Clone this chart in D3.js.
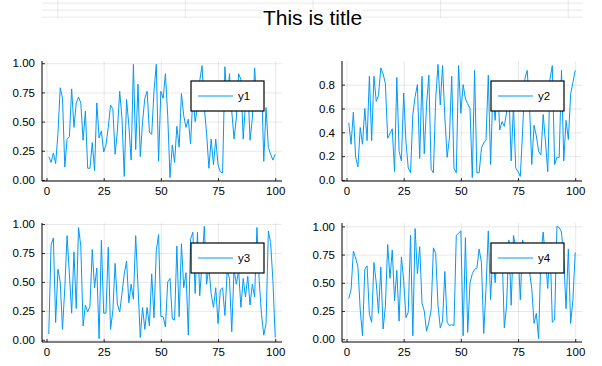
<!DOCTYPE html>
<meta charset="utf-8">
<style>
body {
  margin: 0;
  background: #fff;
  font-family: "Liberation Sans", Arial, sans-serif;
}
.tick text {
  font-family: "Liberation Sans", Arial, sans-serif;
  font-size: 11.5px;
  fill: #000;
}
.grid line {
  stroke: #000;
  stroke-opacity: 0.09;
}
.grid path,
.labels path {
  display: none;
}
.labels line {
  stroke: #000;
  stroke-opacity: 0.8;
}
.spine {
  stroke: #000;
  stroke-width: 1;
}
</style>
<body>
<div id="chart"></div>

<script src="https://cdn.jsdelivr.net/npm/d3@7"></script>
<script>

// data
var steps = d3.range(1, 101);

var y1 = [0.20,0.15,0.23,0.14,0.40,0.79,0.70,0.11,0.35,0.37,
          0.78,0.45,0.66,0.71,0.66,0.34,0.59,0.10,0.10,0.32,
          0.08,0.66,0.36,0.42,0.24,0.30,0.45,0.64,0.61,0.22,
          0.42,0.76,0.53,0.03,0.69,0.47,0.17,0.99,0.26,0.82,
          0.20,0.50,0.70,0.76,0.41,0.39,0.76,0.99,0.16,0.76,
          0.70,0.91,0.55,0.02,0.30,0.15,0.46,0.28,0.74,0.55,
          0.45,0.52,0.31,0.72,0.50,0.62,0.85,0.98,0.62,0.40,
          0.10,0.35,0.13,0.35,0.13,0.07,0.06,0.97,0.65,0.91,
          0.59,0.35,0.53,0.91,0.86,0.35,0.65,0.82,0.34,0.53,
          0.96,0.65,0.59,0.85,0.16,0.62,0.28,0.22,0.17,0.22];

var y2 = [0.48,0.30,0.57,0.19,0.11,0.44,0.30,0.60,0.33,0.87,
          0.33,0.87,0.66,0.71,0.94,0.89,0.81,0.35,0.39,0.43,
          0.07,0.86,0.24,0.16,0.73,0.32,0.10,0.06,0.55,0.70,
          0.80,0.18,0.87,0.22,0.63,0.88,0.09,0.06,0.68,0.97,
          0.63,0.96,0.53,0.19,0.35,0.87,0.10,0.06,0.96,0.56,
          0.80,0.68,0.64,0.60,0.02,0.92,0.06,0.06,0.27,0.31,
          0.34,0.88,0.13,0.75,0.50,0.82,0.42,0.49,0.45,0.57,
          0.75,0.16,0.62,0.10,0.07,0.03,0.41,0.85,0.92,0.63,
          0.13,0.46,0.37,0.24,0.21,0.55,0.32,0.07,0.85,0.96,
          0.13,0.19,0.19,0.92,0.16,0.50,0.34,0.72,0.82,0.92];

var y3 = [0.05,0.82,0.88,0.15,0.61,0.50,0.09,0.45,0.90,0.57,
          0.23,0.76,0.27,0.97,0.81,0.12,0.30,0.24,0.29,0.78,
          0.45,0.62,0.01,0.86,0.23,0.23,0.80,0.09,0.25,0.66,
          0.31,0.24,0.40,0.57,0.68,0.32,0.48,0.35,0.90,0.46,
          0.02,0.28,0.09,0.28,0.12,0.57,0.19,0.77,0.91,0.20,
          0.20,0.11,0.50,0.53,0.18,0.17,0.81,0.20,0.83,0.45,
          0.58,0.04,0.87,0.93,0.40,0.93,0.38,0.66,0.98,0.48,
          0.63,0.40,0.28,0.45,0.14,0.43,0.45,0.21,0.60,0.53,
          0.07,0.61,0.48,0.60,0.28,0.53,0.37,0.55,0.30,0.48,
          0.37,0.97,0.51,0.22,0.04,0.14,0.94,0.84,0.51,0.02];

var y4 = [0.36,0.44,0.78,0.72,0.64,0.26,0.03,0.62,0.65,0.22,
          0.15,0.68,0.50,0.23,0.64,0.09,0.29,0.84,0.54,0.79,
          0.34,0.61,0.16,0.73,0.52,0.19,0.24,0.92,0.03,0.98,
          0.58,0.82,0.32,0.25,0.07,0.15,0.26,0.81,0.76,0.30,
          0.10,0.16,0.60,0.15,0.12,0.13,0.12,0.92,0.94,0.96,
          0.03,0.90,0.06,0.50,0.58,0.62,0.63,0.80,0.68,0.05,
          0.45,0.96,0.35,0.75,0.50,0.80,0.60,0.80,0.10,0.30,
          0.88,0.30,0.92,0.82,0.80,0.35,0.88,0.78,0.72,0.60,
          0.45,0.14,0.23,0.005,0.75,0.95,0.70,0.45,0.85,0.15,
          0.17,1.00,0.99,0.95,0.70,0.27,0.80,0.14,0.35,0.77];

var seriesNames = ["y1", "y2", "y3", "y4"];
var xTicks = [0, 25, 50, 75, 100];
var yTicksQuarter = [0, 0.25, 0.5, 0.75, 1];
var yTicksFifth = [0, 0.2, 0.4, 0.6, 0.8];
var titleTicks = [0, 0.25, 0.5, 0.75, 1];
var titleText = "This is title";

var width = 602, height = 366;
var lineColor = "#009afa";

var svg = d3.select("#chart")
    .append("svg")
    .attr("width", width)
    .attr("height", height);

// plots-style padding of the data range
function widen(ext) {
  var pad = (ext[1] - ext[0]) * 0.03;
  return [ext[0] - pad, ext[1] + pad];
}

// title strip (an empty subplot whose grid peeks out at the top)
var tx = d3.scaleLinear().domain([-0.03, 1.03]).range([42, 583]);
var ty = d3.scaleLinear().domain([-0.03, 1.03]).range([17.5, -12.2]);

svg.append("g")
    .attr("class", "grid")
    .attr("transform", "translate(0,17.5)")
    .call(d3.axisBottom(tx).tickValues(titleTicks).tickSize(-30).tickFormat(""));
svg.append("g")
    .attr("class", "grid")
    .attr("transform", "translate(42,0)")
    .call(d3.axisLeft(ty).tickValues(titleTicks).tickSize(-(583 - 42)).tickFormat(""));

svg.append("rect")
    .attr("x", 262).attr("y", 9.5).attr("width", 100).attr("height", 17)
    .attr("fill", "#fff");

svg.append("text")
    .attr("x", (42 + 583) / 2)
    .attr("y", 25)
    .attr("text-anchor", "middle")
    .style("font-size", "21px")
    .style("fill", "#000")
    .text(titleText);

// subplot boxes
var boxes = [
  {left: 42, right: 282, top: 61, bottom: 181},
  {left: 342, right: 582, top: 61, bottom: 181},
  {left: 42, right: 282, top: 223, bottom: 342},
  {left: 342, right: 582, top: 223, bottom: 342}
];

function drawPanel(box, values, name, yTicks, yFmt) {
  var g = svg.append("g");
  var w = box.right - box.left, h = box.bottom - box.top;

  var x = d3.scaleLinear().domain(widen(d3.extent(steps))).range([box.left, box.right]);
  var y = d3.scaleLinear().domain(widen(d3.extent(values))).range([box.bottom, box.top]);

  // grid
  g.append("g")
      .attr("class", "grid")
      .attr("transform", "translate(0," + box.bottom + ")")
      .call(d3.axisBottom(x).tickValues(xTicks).tickSize(-h).tickFormat(""));
  g.append("g")
      .attr("class", "grid")
      .attr("transform", "translate(" + box.left + ",0)")
      .call(d3.axisLeft(y).tickValues(yTicks).tickSize(-w).tickFormat(""));

  // the series
  g.append("path")
      .datum(values)
      .attr("fill", "none")
      .attr("stroke", lineColor)
      .attr("stroke-width", 1)
      .attr("d", d3.line()
          .x(function(d, i) { return x(steps[i]); })
          .y(function(d) { return y(d); }));

  // tick labels with short inward ticks
  g.append("g")
      .attr("class", "labels")
      .attr("transform", "translate(0," + box.bottom + ")")
      .call(d3.axisBottom(x).tickValues(xTicks).tickSize(-3).tickPadding(6));
  g.append("g")
      .attr("class", "labels")
      .attr("transform", "translate(" + box.left + ",0)")
      .call(d3.axisLeft(y).tickValues(yTicks).tickSize(-3).tickPadding(7).tickFormat(d3.format(yFmt)));

  // left and bottom spines
  g.append("line").attr("class", "spine")
      .attr("x1", box.left).attr("x2", box.left)
      .attr("y1", box.top).attr("y2", box.bottom);
  g.append("line").attr("class", "spine")
      .attr("x1", box.left).attr("x2", box.right)
      .attr("y1", box.bottom).attr("y2", box.bottom);

  // legend
  var lx = box.right - 18 - 73, ly = box.top + 20;
  var leg = g.append("g").attr("transform", "translate(" + lx + "," + ly + ")");
  leg.append("rect")
      .attr("width", 73).attr("height", 30)
      .attr("fill", "#fff")
      .attr("stroke", "#000")
      .attr("stroke-width", 1.2);
  leg.append("line")
      .attr("x1", 7).attr("x2", 42)
      .attr("y1", 15).attr("y2", 15)
      .attr("stroke", lineColor)
      .attr("stroke-width", 1);
  leg.append("text")
      .attr("x", 47).attr("y", 15)
      .attr("dy", "0.35em")
      .style("font-size", "11.5px")
      .style("fill", "#000")
      .text(name);
}

drawPanel(boxes[0], y1, seriesNames[0], yTicksQuarter, ".2f");
drawPanel(boxes[1], y2, seriesNames[1], yTicksFifth, ".1f");
drawPanel(boxes[2], y3, seriesNames[2], yTicksQuarter, ".2f");
drawPanel(boxes[3], y4, seriesNames[3], yTicksQuarter, ".2f");

</script>
</body>
